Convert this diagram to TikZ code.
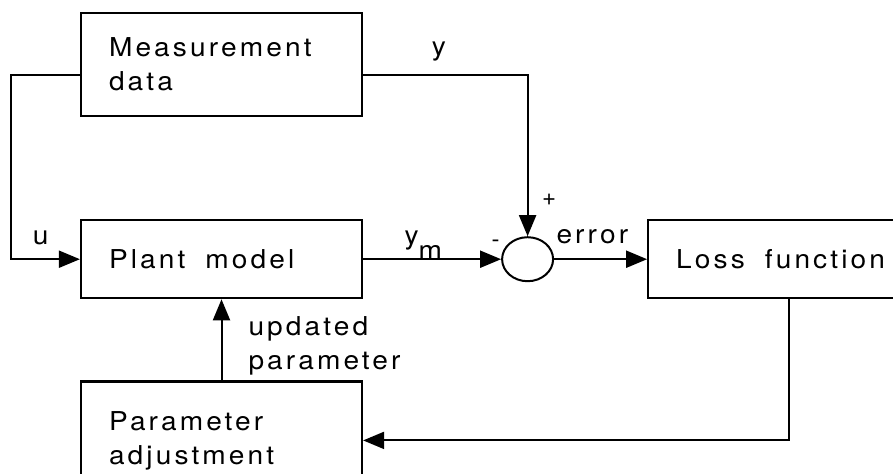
\documentclass[tikz,border=0pt]{standalone}
\usepackage{fontspec}
\usepackage{tikz}
\usetikzlibrary{shapes.geometric, arrows.meta, positioning}

\newfontfamily\heros[LetterSpace=12,FakeStretch=1.08]{TeX Gyre Heros}
\newfontfamily\herosplain{TeX Gyre Heros}
\newcommand{\lbfont}{\heros\fontsize{13pt}{17pt}\selectfont}
\newcommand{\signfont}{\herosplain\fontsize{12pt}{14pt}\selectfont}
\newcommand{\wgap}{\hspace{10pt}}

\begin{document}
\begin{tikzpicture}[
    box/.style={rectangle, draw=black, line width=1.1pt, minimum width=140.5pt, minimum height=39pt, text width=112.5pt, inner xsep=14pt, align=left, font=\lbfont},
    sumnode/.style={ellipse, draw=black, line width=1pt, minimum width=25.5pt, minimum height=22pt, inner sep=0pt},
    lbl/.style={inner sep=0pt, font=\lbfont},
    sign/.style={inner sep=0pt, font=\signfont},
    arrow/.style={-{Triangle[length=10.5pt, width=8.5pt]}, line width=1pt}
]
\clip (0,0) rectangle (446.5pt,-236.5pt);

% Blocks
\node[box, minimum height=51.5pt] (meas) at (110.75pt,-32.25pt) {Measurement\\data};
\node[box, below=51pt of meas] (plant) {Plant\wgap model};
\node[box, minimum height=59pt, below=40.5pt of plant] (param) {Parameter\\adjustment};
\node[sumnode, right=69pt of plant] (sum) {};
\node[box, right=46.5pt of sum] (loss) {Loss\wgap function};

% Labels
\node[lbl, above left=7pt and 15.5pt of plant.west] (ulbl) {u};
\node[lbl, anchor=base west] (ymlbl) at ([xshift=20.5pt, yshift=7.5pt]plant.east) {y\raisebox{-7.5pt}{m}};
\node[lbl, above right=7.25pt and 1pt of sum.east] (errlbl) {error};
\node[sign] (minus) at ([shift={(-16pt,7.75pt)}]sum.center) {-};
\node[sign] (plus) at ([shift={(10.75pt,29.75pt)}]sum.center) {+};

% Connectors
\draw[arrow] ([yshift=-5.25pt]meas.west) -- ++(-34.5pt,0) |- (plant.west);
\draw[arrow] ([yshift=-5.25pt]meas.east) -| node[lbl, pos=0.23, above=6.5pt] {y} (sum.north);
\draw[arrow] (plant) -- (sum);
\draw[arrow] (sum) -- (loss);
\draw[arrow] (loss.south) |- (param.east);
\draw[arrow] (param) -- node[lbl, pos=0.43, right=13pt, align=left] {updated\\parameter} (plant);

\end{tikzpicture}
\end{document}
